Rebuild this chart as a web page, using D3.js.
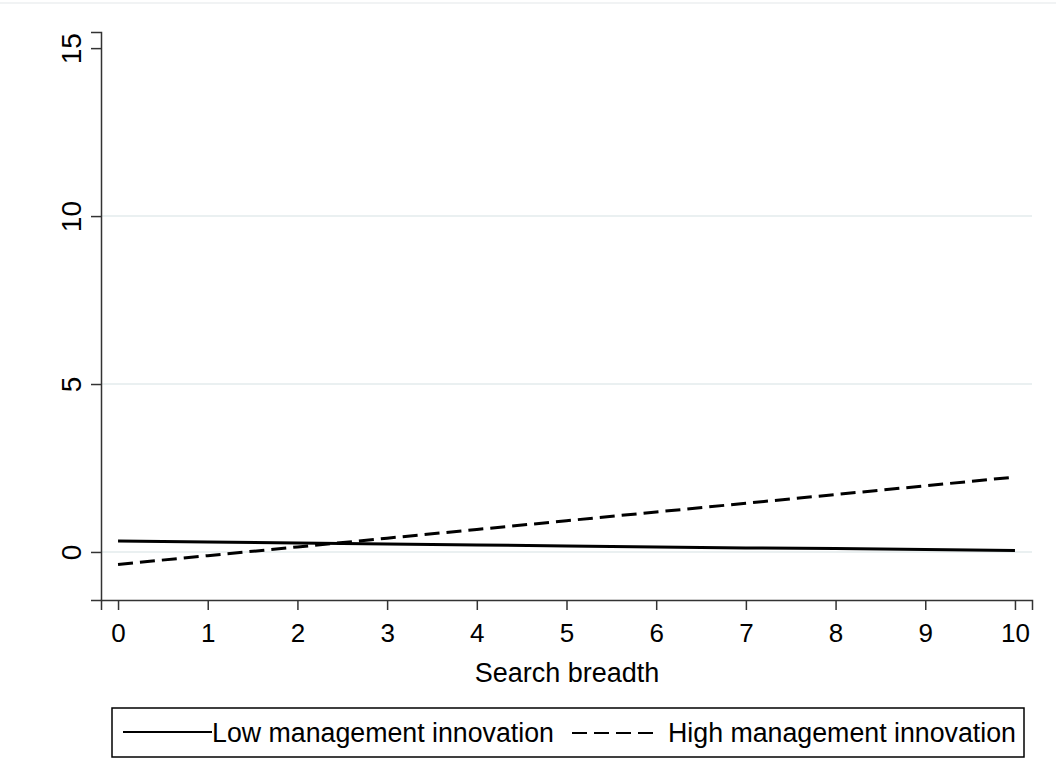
<!DOCTYPE html>
<html>
<head>
<meta charset="utf-8">
<script src="https://cdn.jsdelivr.net/npm/d3@7"></script>
<style>
  body { margin: 0; background: #fff; }
  text { font-family: "Liberation Sans", Arial, sans-serif; fill: #000; }
</style>
</head>
<body>
<div id="container-div"></div>
<script>
// data
var breadth = [0, 1, 2, 3, 4, 5, 6, 7, 8, 9, 10];
var lowInnovation = [0.33, 0.30, 0.27, 0.24, 0.21, 0.18, 0.15, 0.12, 0.10, 0.07, 0.04];
var highInnovation = [-0.37, -0.11, 0.15, 0.41, 0.67, 0.93, 1.19, 1.45, 1.71, 1.97, 2.23];
var yTicks = [0, 5, 10, 15];
var xTicks = [0, 1, 2, 3, 4, 5, 6, 7, 8, 9, 10];
var seriesNames = ["Low management innovation", "High management innovation"];

var W = 1056, H = 769;

let viz = d3.select("#container-div").append("svg")
    .attr("width", W)
    .attr("height", H)
    .attr("id", "viz");

var x = d3.scaleLinear().domain([-0.19, 10.19]).range([101, 1032]);
var y = d3.scaleLinear().domain([-1.43, 15.48]).range([600, 32]);

// faint top border of the graph region
viz.append("line")
    .attr("x1", 0).attr("x2", W)
    .attr("y1", 3).attr("y2", 3)
    .attr("stroke", "#eceff0").attr("stroke-width", 1.5);

// gridlines
viz.selectAll(".grid").data([0, 5, 10]).enter()
    .append("line")
    .attr("class", "grid")
    .attr("x1", 101).attr("x2", 1032)
    .attr("y1", d => y(d)).attr("y2", d => y(d))
    .attr("stroke", "#eaf0f1").attr("stroke-width", 2);

// y axis
var yAxis = viz.append("g")
    .attr("transform", "translate(101,0)")
    .call(d3.axisLeft(y).tickValues(yTicks).tickSize(10));
yAxis.select(".domain").attr("stroke", "#333").attr("stroke-width", 1.5);
yAxis.selectAll(".tick line").attr("stroke", "#333").attr("stroke-width", 1.5);
yAxis.selectAll(".tick text")
    .attr("font-size", 28)
    .attr("text-anchor", "middle")
    .attr("x", 0).attr("y", 0).attr("dy", 0)
    .attr("transform", "translate(-20,0) rotate(-90)");

// x axis
var xAxis = viz.append("g")
    .attr("transform", "translate(0,600)")
    .call(d3.axisBottom(x).tickValues(xTicks).tickSize(10));
xAxis.select(".domain").attr("stroke", "#333").attr("stroke-width", 1.5);
xAxis.selectAll(".tick line").attr("stroke", "#333").attr("stroke-width", 1.5);
xAxis.selectAll(".tick text")
    .attr("font-size", 26)
    .attr("y", 42).attr("dy", 0);

viz.append("text")
    .attr("x", 567).attr("y", 682)
    .attr("text-anchor", "middle")
    .attr("font-size", 27)
    .text("Search breadth");

// lines
var line = d3.line()
    .x((d, i) => x(breadth[i]))
    .y(d => y(d));

viz.append("path")
    .datum(lowInnovation)
    .attr("d", line)
    .attr("fill", "none")
    .attr("stroke", "#000")
    .attr("stroke-width", 3);

viz.append("path")
    .datum(highInnovation)
    .attr("d", line)
    .attr("fill", "none")
    .attr("stroke", "#000")
    .attr("stroke-width", 3)
    .attr("stroke-dasharray", "15,7");

// legend
var legend = viz.append("g");
legend.append("rect")
    .attr("x", 112).attr("y", 708)
    .attr("width", 912).attr("height", 49)
    .attr("fill", "#fff")
    .attr("stroke", "#000").attr("stroke-width", 1.5);

legend.append("line")
    .attr("x1", 123).attr("x2", 212)
    .attr("y1", 732).attr("y2", 732)
    .attr("stroke", "#000").attr("stroke-width", 2);
legend.append("text")
    .attr("x", 212).attr("y", 742)
    .attr("font-size", 27)
    .attr("textLength", 342)
    .attr("lengthAdjust", "spacingAndGlyphs")
    .text(seriesNames[0]);

legend.append("line")
    .attr("x1", 572).attr("x2", 655)
    .attr("y1", 733).attr("y2", 733)
    .attr("stroke", "#000").attr("stroke-width", 2)
    .attr("stroke-dasharray", "15,7");
legend.append("text")
    .attr("x", 668).attr("y", 742)
    .attr("font-size", 27)
    .attr("textLength", 348)
    .attr("lengthAdjust", "spacingAndGlyphs")
    .text(seriesNames[1]);
</script>
</body>
</html>
